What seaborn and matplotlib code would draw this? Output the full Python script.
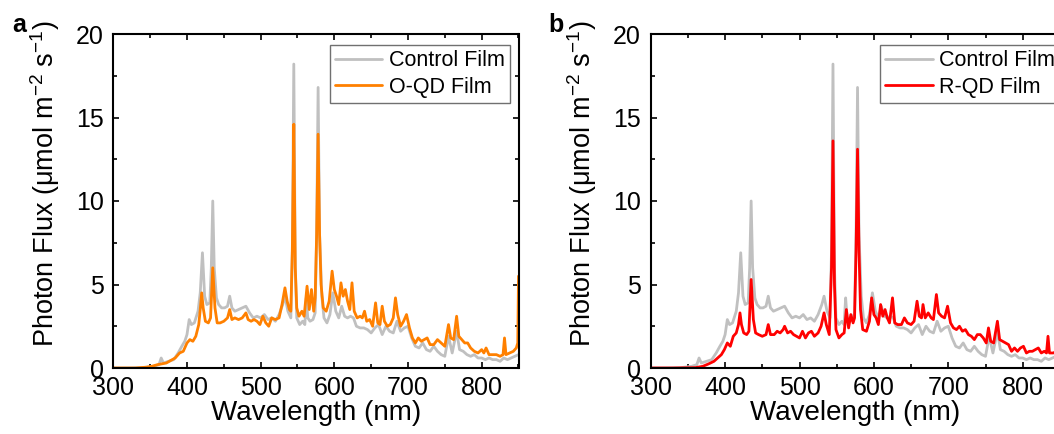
import matplotlib
matplotlib.use("Agg")
import matplotlib.pyplot as plt
import seaborn as sns
from matplotlib.ticker import MultipleLocator

# ---------------- data ----------------
control_wl = [300, 320, 340, 355, 362, 365, 368, 375, 382, 388, 393, 397, 400, 403, 406, 410,
              415, 418, 421, 424, 427, 431, 433, 435, 437, 440, 443, 447, 451, 455, 458, 461,
              465, 470, 475, 480, 485, 490, 495, 500, 505, 510, 515, 520, 525, 530, 533, 537,
              541, 543, 545, 547, 549, 553, 557, 560, 562, 564, 567, 571, 574, 576, 578, 580,
              583, 586, 590, 594, 598, 602, 606, 610, 614, 618, 622, 626, 630, 635, 640, 645,
              650, 655, 660, 665, 670, 675, 680, 685, 690, 695, 700, 705, 710, 715, 720, 725,
              730, 735, 740, 745, 750, 755, 760, 766, 770, 775, 780, 785, 790, 795, 800, 805,
              810, 815, 820, 825, 830, 835, 840, 845, 850]
control_flux = [0.0, 0.0, 0.02, 0.1, 0.2, 0.6, 0.3, 0.4, 0.5, 0.9, 1.3, 1.6, 2.0, 2.9, 2.6, 2.7,
                3.4, 4.5, 6.9, 4.3, 3.8, 3.9, 6.0, 10.0, 6.0, 4.2, 3.8, 3.6, 3.6, 3.7, 4.3, 3.6,
                3.4, 3.5, 3.6, 3.7, 3.3, 3.0, 3.1, 3.0, 3.2, 2.9, 3.0, 2.8, 3.2, 3.8, 4.3, 3.4,
                3.0, 7.0, 18.2, 6.0, 3.0, 2.6, 2.8, 2.6, 4.2, 3.0, 2.8, 2.9, 3.3, 8.0, 16.8, 8.0,
                4.3, 3.0, 2.7, 3.2, 4.5, 3.4, 3.0, 3.7, 3.1, 3.0, 3.1, 3.0, 2.5, 2.4, 2.4, 2.3,
                2.1, 2.4, 2.6, 2.0, 2.5, 2.2, 2.1, 2.8, 2.2, 2.4, 2.5, 1.8, 1.3, 1.2, 1.5, 1.1,
                1.0, 1.3, 1.0, 0.8, 0.7, 1.9, 0.9, 2.2, 1.1, 1.0, 0.8, 0.7, 0.8, 0.6, 0.6, 0.5,
                0.6, 0.5, 0.5, 0.4, 0.6, 0.5, 0.6, 0.7, 0.8]

oqd_wl = [300, 330, 345, 352, 360, 366, 372, 378, 384, 390, 395, 400, 404, 408, 412, 416,
          418, 420, 422, 425, 429, 432, 435, 438, 441, 445, 450, 455, 458, 461, 465, 470,
          475, 480, 483, 487, 491, 495, 499, 503, 507, 511, 515, 520, 525, 529, 533, 536,
          539, 541, 543, 545, 547, 549, 552, 556, 559, 563, 566, 569, 572, 574, 576, 578,
          580, 582, 585, 589, 593, 597, 600, 603, 606, 609, 612, 615, 618, 621, 624, 627,
          631, 635, 638, 641, 644, 648, 652, 656, 659, 662, 665, 668, 672, 676, 680, 683,
          686, 690, 694, 698, 702, 706, 710, 714, 718, 722, 726, 730, 735, 740, 745, 750,
          755, 758, 762, 766, 769, 773, 777, 781, 785, 790, 795, 800, 803, 806, 810, 815,
          820, 825, 829, 831, 833, 838, 843, 847, 849, 850]
oqd_flux = [0.0, 0.0, 0.05, 0.1, 0.2, 0.25, 0.3, 0.45, 0.6, 0.9, 1.0, 1.5, 1.7, 1.6, 1.9, 2.6,
            3.5, 4.5, 3.6, 2.8, 2.7, 3.0, 6.0, 3.6, 2.7, 2.7, 2.8, 3.0, 3.5, 2.9, 3.0, 2.9,
            3.0, 3.3, 2.9, 2.8, 2.9, 2.8, 2.6, 3.1, 2.7, 2.5, 3.0, 2.9, 3.0, 3.8, 4.8, 4.0,
            3.5, 3.4, 7.0, 14.6, 6.0, 3.6, 3.1, 3.4, 3.1, 4.9, 3.5, 4.7, 3.4, 4.2, 8.0, 14.0,
            8.0, 5.0, 3.6, 3.4, 4.0, 5.8, 4.7, 4.3, 3.8, 5.1, 4.3, 4.7, 4.0, 3.5, 5.1, 3.4,
            3.0, 3.1, 3.0, 3.4, 2.8, 2.9, 2.5, 3.9, 2.7, 2.6, 3.7, 2.8, 2.5, 2.6, 3.0, 4.2,
            3.2, 2.5, 2.8, 3.2, 2.4, 1.8, 1.5, 1.8, 1.6, 1.7, 1.8, 1.4, 1.4, 1.7, 1.5, 1.3,
            2.6, 1.8, 1.7, 3.1, 1.9, 1.7, 1.5, 1.5, 1.2, 1.0, 0.9, 1.1, 0.9, 1.2, 0.8, 0.8,
            0.8, 0.7, 0.8, 1.8, 0.8, 0.9, 1.0, 1.2, 1.5, 5.5]

rqd_wl = [300, 330, 360, 370, 378, 385, 390, 395, 399, 403, 407, 411, 415, 418, 420, 422,
          425, 429, 432, 435, 438, 441, 445, 450, 455, 458, 461, 466, 470, 474, 478, 480,
          484, 488, 492, 496, 500, 504, 508, 512, 516, 520, 525, 529, 533, 536, 540, 543,
          545, 547, 549, 553, 557, 560, 563, 566, 569, 572, 574, 576, 578, 580, 582, 585,
          590, 594, 597, 600, 603, 606, 609, 612, 615, 618, 621, 625, 628, 632, 637, 641,
          645, 650, 654, 658, 661, 664, 666, 669, 673, 677, 680, 684, 687, 691, 695, 699,
          703, 707, 711, 715, 719, 723, 727, 731, 735, 739, 743, 747, 751, 754, 757, 761,
          766, 769, 773, 777, 781, 785, 789, 793, 797, 801, 805, 809, 813, 817, 821, 825,
          829, 832, 834, 836, 841, 846, 850]
rqd_flux = [0.0, 0.0, 0.02, 0.1, 0.25, 0.4, 0.6, 0.8, 1.1, 1.5, 1.3, 1.9, 2.1, 2.6, 3.3, 2.6,
            2.1, 2.0, 2.2, 5.3, 2.9, 2.1, 2.0, 1.9, 2.0, 2.6, 2.0, 2.0, 2.2, 2.1, 2.3, 2.5,
            2.1, 2.2, 2.0, 1.9, 1.8, 2.2, 1.8, 2.1, 2.2, 1.9, 2.1, 2.5, 3.3, 2.6, 2.0, 6.0,
            13.6, 5.0, 2.3, 1.8, 2.0, 2.1, 3.5, 2.4, 3.2, 2.7, 3.0, 7.0, 13.1, 7.0, 3.5, 2.3,
            2.2, 2.8, 4.2, 3.2, 3.0, 2.6, 3.8, 3.1, 3.5, 3.0, 2.7, 4.2, 2.7, 2.6, 2.6, 3.0,
            2.7, 2.6, 2.8, 4.0, 3.1, 3.0, 3.8, 3.0, 3.3, 3.0, 2.9, 4.4, 3.3, 3.1, 3.0, 3.7,
            2.7, 2.4, 2.3, 2.5, 2.2, 2.3, 2.0, 1.9, 1.7, 2.0, 2.0, 1.8, 1.5, 2.4, 1.6, 1.5,
            2.8, 1.7, 1.6, 1.5, 1.4, 1.0, 1.2, 1.0, 1.2, 1.3, 0.9, 1.0, 1.0, 1.1, 1.2, 0.9,
            1.0, 0.9, 1.9, 0.9, 0.9, 1.0, 1.1]

panel_letters = ["a", "b"]
series_labels = ["Control Film", "O-QD Film", "R-QD Film"]
x_label = "Wavelength (nm)"
y_label = "Photon Flux (μmol m$\\mathregular{^{-2}}$ s$\\mathregular{^{-1}}$)"

# ---------------- style ----------------
sns.set_style("ticks")
plt.rcParams["font.family"] = ["Liberation Sans", "DejaVu Sans"]
plt.rcParams["mathtext.fontset"] = "custom"
plt.rcParams["mathtext.rm"] = "Liberation Sans"
for key in ["text.color", "axes.labelcolor", "xtick.color", "ytick.color",
            "xtick.labelcolor", "ytick.labelcolor"]:
    plt.rcParams[key] = "black"

GRAY = "#c0c0c0"
ORANGE = "#ff8000"
RED = "#ff0000"

W, H = 1054, 434
fig = plt.figure(figsize=(W / 100, H / 100), dpi=100)
fig.patch.set_facecolor("white")

ax_a = fig.add_axes([113.3 / W, 66 / H, 405.2 / W, 334 / H])
ax_b = fig.add_axes([650.7 / W, 66 / H, 409.2 / W, 334 / H])

def style_axes(ax):
    ax.set_xlim(300, 850)
    ax.set_ylim(0, 20)
    ax.xaxis.set_major_locator(MultipleLocator(100))
    ax.xaxis.set_minor_locator(MultipleLocator(50))
    ax.yaxis.set_major_locator(MultipleLocator(5))
    ax.yaxis.set_minor_locator(MultipleLocator(2.5))
    ax.tick_params(which="both", direction="in", top=True, right=True,
                   width=1.2, color="black")
    ax.tick_params(which="major", length=4)
    ax.tick_params(which="minor", length=3)
    ax.tick_params(axis="x", which="major", labelsize=18, pad=5.5, labelcolor="black")
    ax.tick_params(axis="y", which="major", labelsize=18, pad=7, labelcolor="black")
    for s in ax.spines.values():
        s.set_linewidth(1.5)
        s.set_color("black")
    ax.set_xlabel(x_label, fontsize=20, labelpad=0, color="black")
    ax.set_ylabel(y_label, fontsize=19.5, color="black")
    ax.yaxis.set_label_coords(-0.127, 0.552)

for ax, wl, flux, col, lab in [(ax_a, oqd_wl, oqd_flux, ORANGE, series_labels[1]),
                               (ax_b, rqd_wl, rqd_flux, RED, series_labels[2])]:
    sns.lineplot(x=control_wl, y=control_flux, ax=ax, color=GRAY, lw=2.0,
                 estimator=None, label=series_labels[0])
    sns.lineplot(x=wl, y=flux, ax=ax, color=col, lw=2.0,
                 estimator=None, label=lab)
    style_axes(ax)

leg_kw = dict(fontsize=15.5, frameon=True, fancybox=False, framealpha=1,
              edgecolor="#707070", borderaxespad=0, handlelength=2.2,
              handletextpad=0.3, labelspacing=0.25, borderpad=0.25)
la = ax_a.legend(loc="upper right", bbox_to_anchor=(1 - 8.5 / 405.2, 1 - 11 / 334), **leg_kw)
lb = ax_b.legend(loc="upper left", bbox_to_anchor=((880 - 650.7) / 409.2, 1 - 11 / 334), **leg_kw)
for lg in (la, lb):
    lg.get_frame().set_linewidth(1.0)
    for t in lg.get_texts():
        t.set_color("black")

fig.text(12 / W, 1 - 32 / H, panel_letters[0], fontsize=18, fontweight="bold", ha="left", va="baseline")
fig.text(548 / W, 1 - 32 / H, panel_letters[1], fontsize=18, fontweight="bold", ha="left", va="baseline")

fig.savefig("out.png", dpi=100, facecolor="white")
